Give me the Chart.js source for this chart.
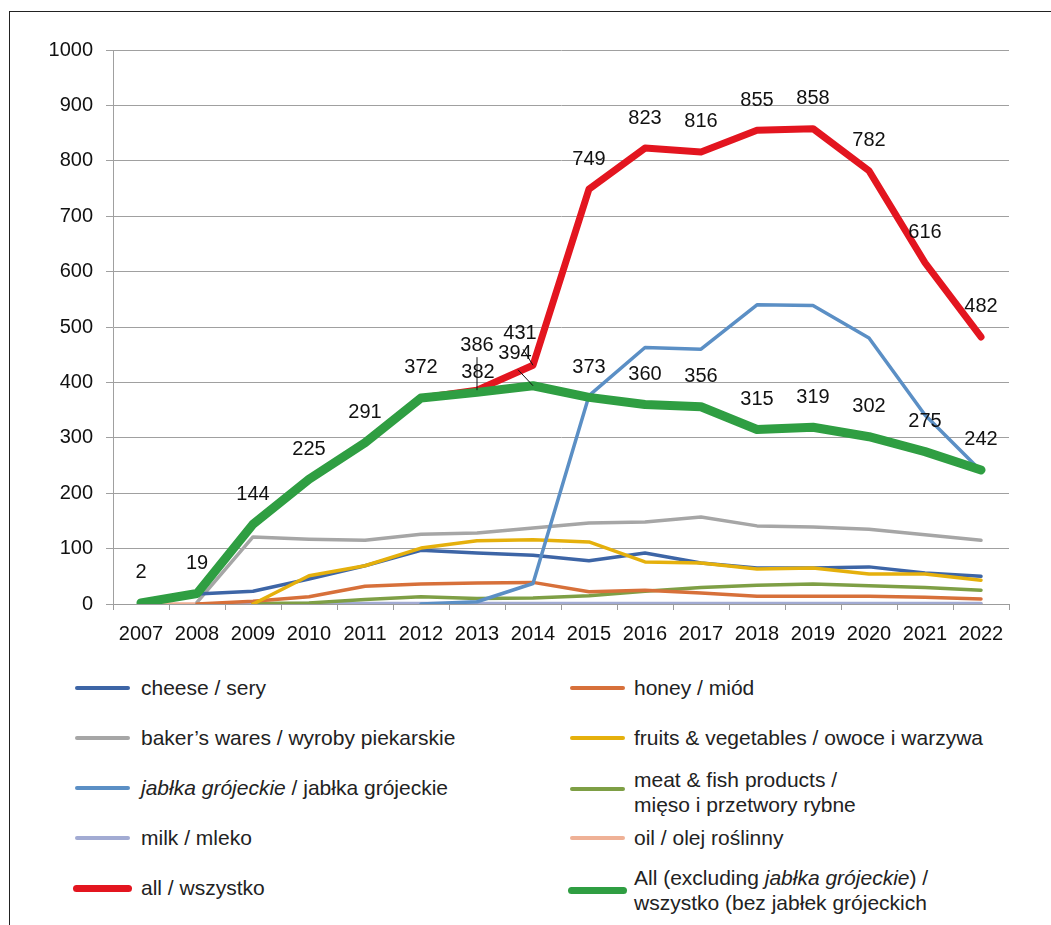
<!DOCTYPE html>
<html>
<head>
<meta charset="utf-8">
<script src="https://cdn.jsdelivr.net/npm/chart.js@4"></script>
<style>
  html, body { margin: 0; padding: 0; background: #fff; }
  body { width: 1051px; height: 925px; position: relative; overflow: hidden;
         font-family: "Liberation Sans", Arial, sans-serif; color: #222; }
  #frame { position: absolute; left: 9px; top: 11px; width: 1050px; height: 920px;
           border-left: 1px solid #222; border-top: 1px solid #222; }
  #wrap { position: absolute; left: 10px; top: 12px; width: 1030px; height: 640px; }
  .leg { position: absolute; font-size: 21px; line-height: 25px; white-space: nowrap; }
  .sw { position: absolute; height: 4px; border-radius: 2px; }
</style>
</head>
<body>
<div id="frame"></div>
<div id="wrap"><canvas id="chart"></canvas></div>
<div id="legend"></div>
<script>
const years = ['2007','2008','2009','2010','2011','2012','2013','2014','2015','2016','2017','2018','2019','2020','2021','2022'];
const yTicks = [0, 100, 200, 300, 400, 500, 600, 700, 800, 900, 1000];

const cheese  = [null, 18, 23, 45, 69, 97, 92, 88, 78, 92, 74, 65, 65, 67, 56, 50];
const honey   = [null, 0, 5, 13, 32, 36, 38, 39, 22, 25, 20, 14, 14, 14, 12, 9];
const bakers  = [null, 3, 121, 117, 115, 126, 128, 137, 146, 148, 157, 141, 139, 135, 125, 115];
const fruits  = [null, null, 0, 51, 69, 101, 114, 116, 112, 76, 74, 63, 65, 54, 54, 43];
const jablka  = [null, null, null, null, null, 0, 4, 37, 376, 463, 460, 540, 539, 480, 341, 240];
const meat    = [null, null, 1, 2, 8, 13, 10, 11, 15, 23, 30, 34, 36, 33, 30, 25];
const milk    = [null, 0, 0, 1, 1, 1, 1, 1, 1, 1, 1, 1, 1, 1, 1, 1];
const oil     = [0, 0, 0, 0, 0, 0, 0, 0, 0, 0, 0, 0, 0, 0, 0, 0];
const all     = [2, 19, 144, 225, 291, 372, 386, 431, 749, 823, 816, 855, 858, 782, 616, 482];
const allExcl = [2, 19, 144, 225, 291, 372, 382, 394, 373, 360, 356, 315, 319, 302, 275, 242];

// which values get a printed label, and small nudges for the crowded 2013/2014 ones
const allLabelFrom = 6;
const labelNudge = {
  all:     { 6: [0, -45, true], 7: [-13, -32, true] },
  allExcl: { 6: [1, -20, false], 7: [-18, -32, true] }
};

const colors = {
  cheese: '#3d65a6', honey: '#d7703a', bakers: '#a6a6a6', fruits: '#e5b00c',
  jablka: '#5b8fc5', meat: '#7e9f45', milk: '#a2abd3', oil: '#efb196',
  all: '#e3151f', allExcl: '#2f9e42'
};

function line(label, data, color, width, order) {
  return { label, data, borderColor: color, backgroundColor: color, borderWidth: width,
           pointRadius: 0, pointHoverRadius: 0, tension: 0, order,
           borderCapStyle: 'round', borderJoinStyle: 'round', spanGaps: false };
}

const valueLabels = {
  id: 'valueLabels',
  afterDatasetsDraw(chart) {
    const ctx = chart.ctx;
    ctx.save();
    ctx.font = '20px "Liberation Sans", Arial, sans-serif';
    ctx.fillStyle = '#111';
    ctx.textAlign = 'center';
    ctx.textBaseline = 'middle';
    [['all', 8], ['allExcl', 9]].forEach(([key, idx]) => {
      const meta = chart.getDatasetMeta(idx);
      const data = chart.data.datasets[idx].data;
      meta.data.forEach((pt, i) => {
        if (key === 'all' && i < allLabelFrom) return;
        const n = (labelNudge[key] || {})[i];
        const dx = n ? n[0] : 0, dy = n ? n[1] : -30;
        const lx = pt.x + dx, ly = pt.y + dy;
        if (n && n[2]) {
          ctx.strokeStyle = '#111';
          ctx.lineWidth = 1;
          ctx.beginPath();
          if (dx === 0) { ctx.moveTo(lx, ly + 12); }
          else { ctx.moveTo(lx + 3, ly + 16); }
          ctx.lineTo(pt.x, pt.y);
          ctx.stroke();
        }
        ctx.fillText(String(data[i]), lx, ly);
      });
    });
    ctx.restore();
  }
};

new Chart(document.getElementById('chart'), {
  type: 'line',
  data: {
    labels: years,
    datasets: [
      line('cheese / sery', cheese, colors.cheese, 3.5, 5),
      line('honey / miód', honey, colors.honey, 3.5, 6),
      line('baker’s wares / wyroby piekarskie', bakers, colors.bakers, 3.5, 7),
      line('fruits & vegetables / owoce i warzywa', fruits, colors.fruits, 3.5, 4),
      line('jabłka grójeckie / jabłka grójeckie', jablka, colors.jablka, 3.5, 3),
      line('meat & fish products / mięso i przetwory rybne', meat, colors.meat, 3.5, 8),
      line('milk / mleko', milk, colors.milk, 3.5, 9),
      line('oil / olej roślinny', oil, colors.oil, 3.5, 10),
      line('all / wszystko', all, colors.all, 7, 1),
      line('All (excluding jabłka grójeckie) / wszystko (bez jabłek grójeckich', allExcl, colors.allExcl, 9, 0)
    ]
  },
  options: {
    responsive: true,
    maintainAspectRatio: false,
    animation: false,
    events: [],
    layout: { padding: { top: 38, right: 31, left: 0, bottom: 0 } },
    plugins: { legend: { display: false }, tooltip: { enabled: false } },
    scales: {
      x: {
        offset: true,
        grid: { display: true, drawOnChartArea: false, offset: true, tickLength: 6, color: '#9c9c9c' },
        border: { color: '#9c9c9c' },
        ticks: { color: '#111', padding: 12, maxRotation: 0, autoSkip: false,
                 font: { size: 20, family: '"Liberation Sans", Arial, sans-serif' } },
        afterFit(scale) { scale.height = 48; }
      },
      y: {
        min: 0, max: 1000,
        afterBuildTicks(scale) { scale.ticks = yTicks.map(v => ({ value: v })); },
        grid: { color: '#a0a0a0', tickLength: 7 },
        border: { color: '#a0a0a0' },
        ticks: { color: '#111', padding: 13, callback: v => String(v),
                 font: { size: 20, family: '"Liberation Sans", Arial, sans-serif' } },
        afterFit(scale) { scale.width = 103; }
      }
    }
  },
  plugins: [valueLabels]
});

// legend in two columns, as in the figure
const legendRows = [
  { col: 0, y: 688, color: colors.cheese, html: 'cheese / sery' },
  { col: 0, y: 738, color: colors.bakers, html: 'baker’s wares / wyroby piekarskie' },
  { col: 0, y: 788, color: colors.jablka, html: '<i>jabłka grójeckie</i> / jabłka grójeckie' },
  { col: 0, y: 838, color: colors.milk, html: 'milk / mleko' },
  { col: 0, y: 888, color: colors.all, html: 'all / wszystko', thick: true },
  { col: 1, y: 688, color: colors.honey, html: 'honey / miód' },
  { col: 1, y: 738, color: colors.fruits, html: 'fruits &amp; vegetables / owoce i warzywa' },
  { col: 1, y: 789, color: colors.meat, html: 'meat &amp; fish products /<br>mięso i przetwory rybne', two: true },
  { col: 1, y: 838, color: colors.oil, html: 'oil / olej roślinny' },
  { col: 1, y: 890, color: colors.allExcl, html: 'All (excluding <i>jabłka grójeckie</i>) /<br>wszystko (bez jabłek grójeckich', two: true, thick: true }
];
const legendEl = document.getElementById('legend');
legendRows.forEach(r => {
  const sx = r.col ? 570 : 75;
  const tx = r.col ? 634 : 141;
  const sw = document.createElement('div');
  sw.className = 'sw';
  const h = r.thick ? 7 : 4;
  sw.style.cssText = `left:${sx - (r.thick ? 2 : 0)}px;top:${r.y - h / 2}px;width:${55 + (r.thick ? 4 : 0)}px;height:${h}px;background:${r.color};border-radius:${h / 2}px`;
  legendEl.appendChild(sw);
  const t = document.createElement('div');
  t.className = 'leg';
  t.innerHTML = r.html;
  const ty = r.two ? (r.col && r.thick ? r.y - 25 : r.y - 22) : r.y - 13;
  t.style.left = tx + 'px';
  t.style.top = ty + 'px';
  legendEl.appendChild(t);
});
</script>
</body>
</html>
